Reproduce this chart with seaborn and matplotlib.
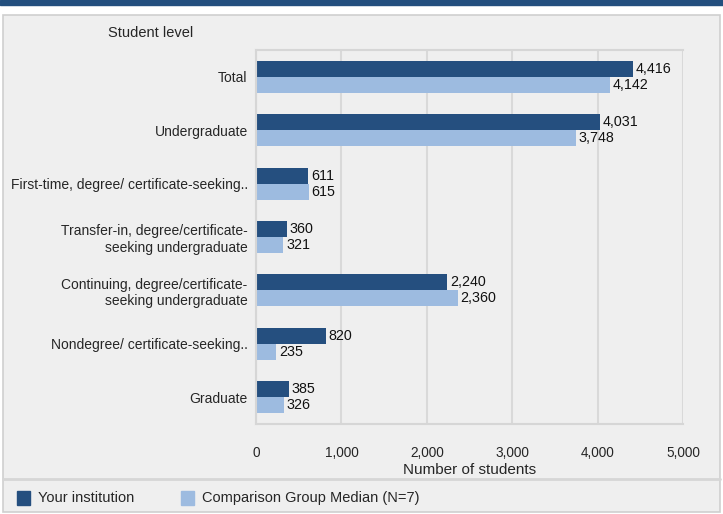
import pandas as pd
import matplotlib.pyplot as plt
import seaborn as sns
from matplotlib.patches import Rectangle
from matplotlib.ticker import MultipleLocator, FuncFormatter

levels = [
    "Total",
    "Undergraduate",
    "First-time, degree/ certificate-seeking..",
    "Transfer-in, degree/certificate-\nseeking undergraduate",
    "Continuing, degree/certificate-\nseeking undergraduate",
    "Nondegree/ certificate-seeking..",
    "Graduate",
]
your_institution = [4416, 4031, 611, 360, 2240, 820, 385]
comparison_median = [4142, 3748, 615, 321, 2360, 235, 326]
series_names = ["Your institution", "Comparison Group Median (N=7)"]

dark = "#254f7f"
light = "#9dbbe0"

df = pd.DataFrame({
    "level": levels * 2,
    "value": your_institution + comparison_median,
    "series": [series_names[0]] * len(levels) + [series_names[1]] * len(levels),
})

sns.set_style("white")
plt.rcParams["font.family"] = ["Liberation Sans", "DejaVu Sans"]

fig = plt.figure(figsize=(7.23, 5.14), dpi=100)
W, H = 723, 514

# header strip and grey panel
fig.patches.append(Rectangle((0, 1 - 5 / H), 1, 5 / H, transform=fig.transFigure,
                             color="#234f7e", zorder=-10))
fig.patches.append(Rectangle((3 / W, 2 / H), 717 / W, (514 - 15 - 2) / H,
                             transform=fig.transFigure, facecolor="#efefef",
                             edgecolor="#cfcfcf", linewidth=1.2, zorder=-10))
fig.add_artist(plt.Line2D([3 / W, 720 / W], [1 - 479 / H, 1 - 479 / H],
                          transform=fig.transFigure, color="#d6d6d6", linewidth=2,
                          zorder=-5))

ax = fig.add_axes([256 / W, 1 - 424 / H, (683 - 256) / W, (424 - 50) / H])
ax.set_zorder(1)
ax.set_facecolor("#efefef")

sns.barplot(data=df, y="level", x="value", hue="series", orient="h",
            palette=[dark, light], width=0.6, saturation=1, legend=False,
            linewidth=0, ax=ax)

for container in ax.containers:
    ax.bar_label(container, labels=[f"{v:,.0f}" for v in container.datavalues],
                 padding=2, fontsize=10.3, color="#111111")

ax.set_xlim(0, 5000)
ax.xaxis.set_major_locator(MultipleLocator(1000))
ax.xaxis.set_minor_locator(MultipleLocator(500))
ax.xaxis.set_major_formatter(FuncFormatter(lambda v, p: f"{v:,.0f}"))
ax.grid(axis="x", color="#d9d9d9", linewidth=1.5)
ax.set_axisbelow(True)
ax.tick_params(axis="x", which="major", direction="out", length=5, color="#d6d6d6",
               width=1.5, labelsize=9.8, pad=11)
ax.tick_params(axis="x", which="minor", direction="out", length=3, color="#d6d6d6",
               width=1.5)
ax.tick_params(axis="y", length=0, labelsize=10, pad=6)
for side in ["top", "left", "bottom"]:
    ax.spines[side].set_color("#d6d6d6")
    ax.spines[side].set_linewidth(1.5)
ax.spines["right"].set_visible(False)
ax.set_ylabel("")
ax.set_xlabel("Number of students", fontsize=11, labelpad=2)

fig.text(108 / W, 1 - 33 / H, "Student level", fontsize=10.5, va="center", ha="left")

# legend
for i, (name, col) in enumerate(zip(series_names, [dark, light])):
    x0 = [17, 181][i]
    fig.patches.append(Rectangle((x0 / W, 1 - 505 / H), 13 / W, 14 / H,
                                 transform=fig.transFigure, color=col))
    fig.text((x0 + 21) / W, 1 - 498 / H, name, fontsize=10.5, va="center", ha="left")

fig.savefig("out.png", dpi=100)
